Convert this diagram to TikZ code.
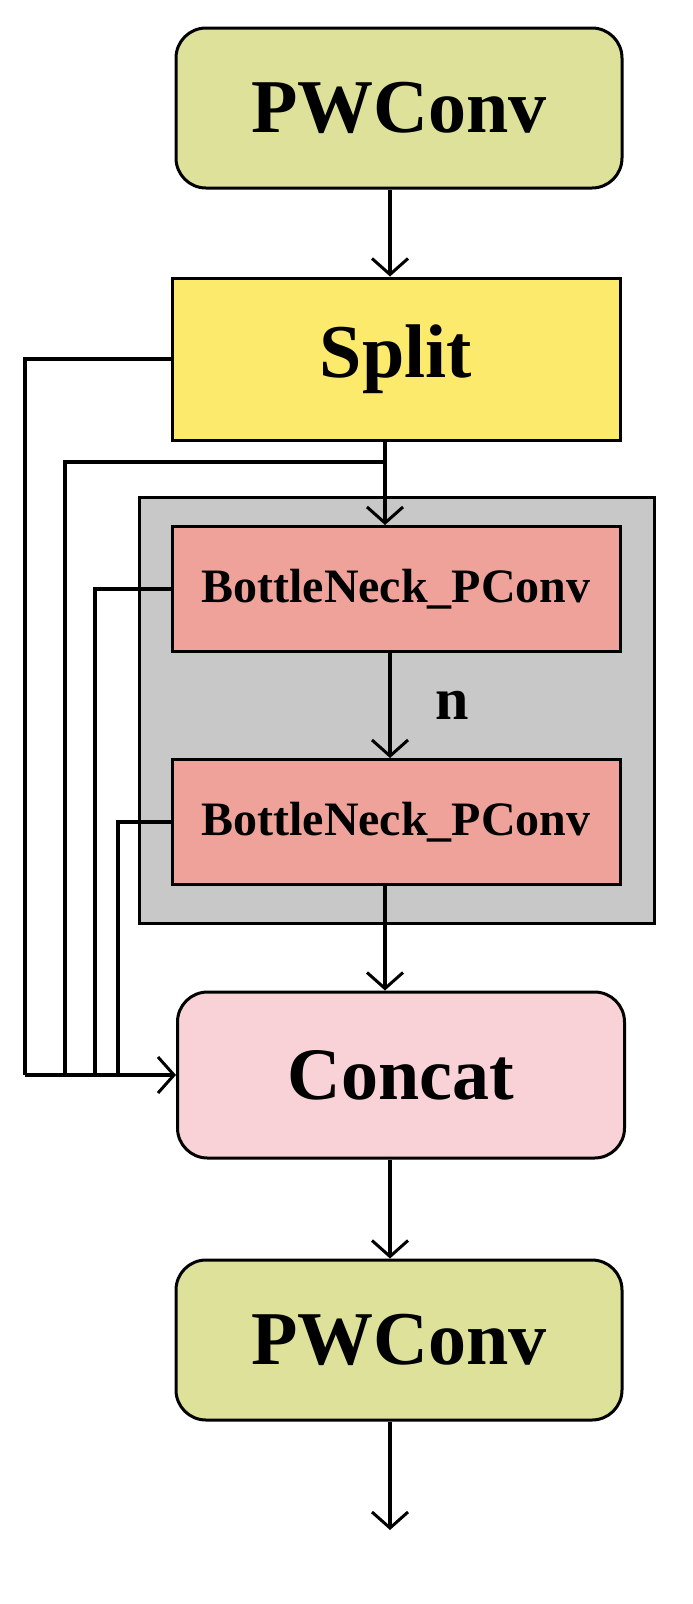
\documentclass[tikz,border=0pt]{standalone}
\usepackage{fontspec}
\setmainfont{Liberation Serif}
\usetikzlibrary{arrows.meta}
\begin{document}
\begin{tikzpicture}[x=1pt,y=-1pt,
  line width=3.5pt,
  box/.style={draw=black,line width=3pt,minimum width=446pt,font=\bfseries},
  arr/.style={-{Straight Barb[length=16pt,width=36pt,line width=3pt]}},
  ln/.style={line width=3.5pt}]
\useasboundingbox (0,0) rectangle (693,1604);
\definecolor{olive}{HTML}{DEE19A}
\definecolor{ylw}{HTML}{FCEA6C}
\definecolor{salmon}{HTML}{EFA29A}
\definecolor{pinkc}{HTML}{F8D2D6}
\definecolor{grayb}{HTML}{C8C8C8}
\node[box,fill=olive,rounded corners=30pt,minimum height=160pt,font=\bfseries\fontsize{76}{80}\selectfont] (pw1) at (399,108) {PWConv};
\node[box,fill=ylw,minimum height=162pt,minimum width=448pt,font=\bfseries\fontsize{76}{80}\selectfont] (split) at (396,359) {Split};
\node[draw=black,line width=3pt,fill=grayb,minimum width=515pt,minimum height=426pt] (grp) at (397,710) {};
\node[box,fill=salmon,minimum height=125pt,minimum width=448pt,font=\bfseries\fontsize{48}{52}\selectfont] (bn1) at (396,589) {BottleNeck\_PConv};
\node[box,fill=salmon,minimum height=125pt,minimum width=448pt,font=\bfseries\fontsize{48}{52}\selectfont] (bn2) at (396,822) {BottleNeck\_PConv};
\node[box,fill=pinkc,rounded corners=30pt,minimum height=166pt,minimum width=447pt,font=\bfseries\fontsize{74}{78}\selectfont] (cat) at (401,1075) {Concat};
\node[box,fill=olive,rounded corners=30pt,minimum height=160pt,font=\bfseries\fontsize{76}{80}\selectfont] (pw2) at (399,1340) {PWConv};
\node[font=\bfseries\fontsize{60}{64}\selectfont] (n) at (452,705) {n};
\coordinate (out) at (390,1530);
\draw[arr] (pw1.south -| 390,0) -- (split.north -| 390,0);
\draw[arr] (split.south -| 385,0) -- (bn1.north -| 385,0);
\draw[arr] (bn1.south -| 390,0) -- (bn2.north -| 390,0);
\draw[arr] (bn2.south -| 385,0) -- (cat.north -| 385,0);
\draw[arr] (cat.south -| 390,0) -- (pw2.north -| 390,0);
\draw[arr] (pw2.south -| 390,0) -- (out);
\draw[ln] (385,462) -- (65,462) -- (65,1075);
\draw[ln] (split.west) -- (25,359) -- (25,1075);
\draw[ln] (bn1.west) -- (95,589) -- (95,1075);
\draw[ln] (bn2.west) -- (118,822) -- (118,1075);
\draw[arr] (25,1075) -- (cat.west);
\end{tikzpicture}
\end{document}
